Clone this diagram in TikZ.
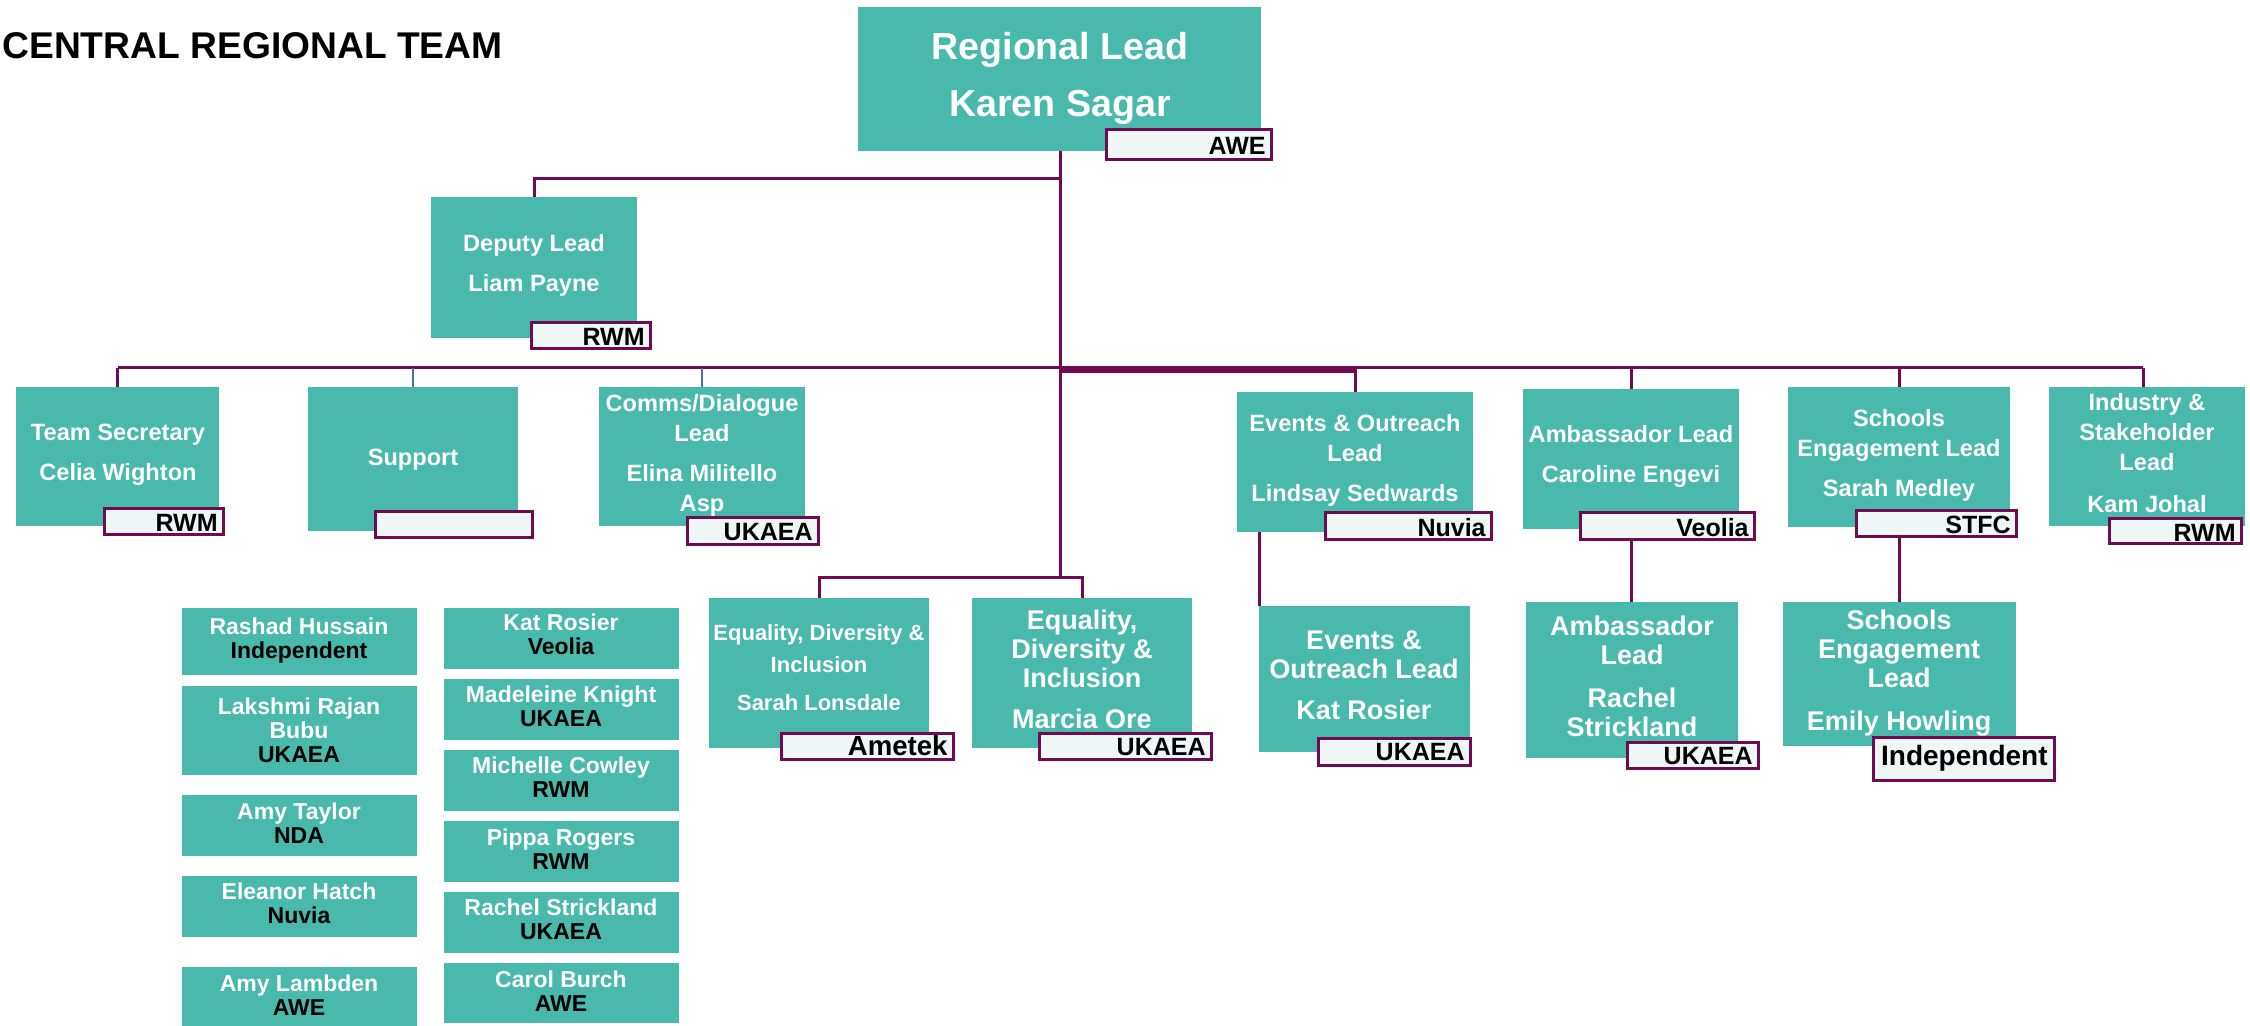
\documentclass[tikz,border=0pt]{standalone}
\usepackage{fontspec}
\setmainfont{Liberation Sans}
\usetikzlibrary{fit}
\definecolor{teal1}{RGB}{72,185,170}
\definecolor{maroon1}{RGB}{112,10,82}
\definecolor{tagfill}{RGB}{238,247,245}
\definecolor{blue1}{RGB}{74,110,168}
\tikzset{
  box/.style={fill=teal1, draw=none, inner sep=0pt, outer sep=0pt},
  tagbox/.style={fill=tagfill, draw=maroon1, line width=1.5pt, inner sep=0pt, outer sep=0pt},
  tagtext/.style={font=\bfseries\fontsize{12.5}{13}\selectfont, text=black, inner sep=0pt, anchor=east},
  regtext/.style={font=\bfseries\fontsize{18.8}{28.5}\selectfont, text=white, align=center, inner sep=0pt},
  toptext/.style={font=\bfseries\fontsize{11.8}{15}\selectfont, text=white, align=center, inner sep=0pt},
  lvtext/.style={font=\bfseries\fontsize{13.5}{14.5}\selectfont, text=white, align=center, inner sep=0pt},
  edtext/.style={font=\bfseries\fontsize{11}{16}\selectfont, text=white, align=center, inner sep=0pt},
  memtext/.style={font=\bfseries\fontsize{11.5}{12}\selectfont, text=white, align=center, inner sep=0pt},
  conn/.style={draw=maroon1, line width=1.5pt},
  thinconn/.style={draw=blue1, line width=0.8pt},
}
\newcommand\bx[5]{\node[box, fit={(#2,#3) (#4,#5)}] (#1) {};}
\newcommand\tg[6]{\node[tagbox, fit={(#2,#3) (#4,#5)}] (#1) {};
  \node[tagtext] (#1-t) at ([xshift=-2.5pt,yshift=-0.5pt]#1.east) {#6};}
\newcommand\co[1]{{\color{black}#1}}
\begin{document}
\begin{tikzpicture}[x=0.5pt, y=-0.5pt]
\useasboundingbox (0,0) rectangle (2250,1026);

% title
\node[anchor=base west, inner sep=0pt, font=\bfseries\fontsize{18.6}{19}\selectfont] (title) at (2,59) {CENTRAL REGIONAL TEAM};

% regional lead
\bx{reg}{858}{7}{1261}{151}
\node[regtext] (reg-t) at (1060,78) {Regional Lead\\Karen Sagar};
\tg{regtag}{1106}{130}{1271}{160}{AWE}

% deputy
\bx{dep}{431}{197}{637}{338}
\node[toptext] (dep-t) at (534,265) {Deputy Lead\\[5pt]Liam Payne};
\tg{deptag}{531}{323}{650}{349}{RWM}

% top row
\bx{ts}{16}{387}{219}{526}
\node[toptext] (ts-t) at (118,455) {Team Secretary\\[5pt]Celia Wighton};
\tg{tstag}{104}{509}{223}{535}{RWM}

\bx{sup}{308}{387}{518}{531}
\node[toptext] (sup-t) at (413,460) {Support};
\tg{suptag}{375}{512}{532}{538}{}

\bx{com}{599}{387}{805}{526}
\node[toptext] (com-t) at (702,455) {Comms/Dialogue\\Lead\\[5pt]Elina Militello\\Asp};
\tg{comtag}{687}{518}{818}{545}{UKAEA}

\bx{ev}{1237}{392}{1473}{532}
\node[toptext] (ev-t) at (1355,460) {Events \& Outreach\\Lead\\[5pt]Lindsay Sedwards};
\tg{evtag}{1325}{513}{1491}{540}{Nuvia}

\bx{amb}{1523}{389}{1739}{529}
\node[toptext] (amb-t) at (1631,456) {Ambassador Lead\\[5pt]Caroline Engevi};
\tg{ambtag}{1580}{513}{1754}{540}{Veolia}

\bx{sch}{1788}{387}{2010}{527}
\node[toptext] (sch-t) at (1899,455) {Schools\\Engagement Lead\\[5pt]Sarah Medley};
\tg{schtag}{1856}{511}{2016}{537}{STFC}

\bx{ind}{2049}{387}{2245}{526}
\node[toptext] (ind-t) at (2147,453) {Industry \&\\Stakeholder\\Lead\\[6pt]Kam Johal};
\tg{indtag}{2109}{519}{2241}{544}{RWM}

% second level
\bx{evc}{1259}{606}{1470}{752}
\node[lvtext] (evc-t) at (1364,675) {Events \&\\Outreach Lead\\[6pt]Kat Rosier};
\tg{evctag}{1318}{738}{1470}{765}{UKAEA}

\bx{ambc}{1526}{602}{1738}{758}
\node[lvtext] (ambc-t) at (1632,676) {Ambassador\\Lead\\[7pt]Rachel\\Strickland};
\tg{ambctag}{1627}{742}{1758}{768}{UKAEA}

\bx{schc}{1783}{602}{2016}{746}
\node[lvtext] (schc-t) at (1899,673) {Schools\\Engagement\\Lead\\[7pt]Emily Howling};
\node[tagbox, fit={(1873,737) (2054,780)}] (schctag) {};
\node[tagtext, font=\bfseries\fontsize{14}{14}\selectfont] (schctag-t) at ([xshift=-3pt]schctag.east) {Independent};

\bx{edi1}{709}{598}{929}{748}
\node[edtext] (edi1-t) at (819,668) {Equality, Diversity \&\\Inclusion\\[3pt]Sarah Lonsdale};
\node[tagbox, fit={(781,733) (953,759)}] (edi1tag) {};
\node[tagtext, font=\bfseries\fontsize{13.8}{14}\selectfont] (edi1tag-t) at ([xshift=-2.5pt]edi1tag.east) {Ametek};

\bx{edi2}{972}{598}{1192}{748}
\node[lvtext] (edi2-t) at (1082,669) {Equality,\\Diversity \&\\Inclusion\\[6pt]Marcia Ore};
\tg{edi2tag}{1039}{733}{1211}{759}{UKAEA}

% members column 1
\bx{m1}{182}{608}{417}{675}
\node[memtext] (m1-t) at (299,641) {Rashad Hussain\\\co{Independent}};
\bx{m2}{182}{686}{417}{775}
\node[memtext] (m2-t) at (299,730) {Lakshmi Rajan\\Bubu\\\co{UKAEA}};
\bx{m3}{182}{795}{417}{856}
\node[memtext] (m3-t) at (299,823) {Amy Taylor\\\co{NDA}};
\bx{m4}{182}{876}{417}{937}
\node[memtext] (m4-t) at (299,903) {Eleanor Hatch\\\co{Nuvia}};
\bx{m5}{182}{967}{417}{1026}
\node[memtext] (m5-t) at (299,995) {Amy Lambden\\\co{AWE}};
% members column 2
\bx{n1}{444}{608}{679}{669}
\node[memtext] (n1-t) at (561,634) {Kat Rosier\\\co{Veolia}};
\bx{n2}{444}{679}{679}{740}
\node[memtext] (n2-t) at (561,706) {Madeleine Knight\\\co{UKAEA}};
\bx{n3}{444}{750}{679}{811}
\node[memtext] (n3-t) at (561,777) {Michelle Cowley\\\co{RWM}};
\bx{n4}{444}{821}{679}{882}
\node[memtext] (n4-t) at (561,849) {Pippa Rogers\\\co{RWM}};
\bx{n5}{444}{892}{679}{953}
\node[memtext] (n5-t) at (561,919) {Rachel Strickland\\\co{UKAEA}};
\bx{n6}{444}{963}{679}{1023}
\node[memtext] (n6-t) at (561,991) {Carol Burch\\\co{AWE}};

% connectors
\coordinate (j1) at (1060,179);
\coordinate (bar) at (1060,368);
\coordinate (j3) at (1060,578);
\draw[conn] (reg.south -| j1) -- (j3);
\draw[conn] (j1) -| (dep.north);
\draw[conn] (ts.north |- bar) -- (2143,368) coordinate (barR);
\draw[draw=maroon1, line width=3.5pt] ([yshift=-1pt]bar) -- ([yshift=-1pt]ev.north |- bar);
\draw[conn] (ts.north |- bar) -- (ts.north);
\draw[thinconn] (sup.north |- bar) -- (sup.north);
\draw[thinconn] (com.north |- bar) -- (com.north);
\draw[conn] (ev.north |- bar) -- (ev.north);
\draw[conn] (amb.north |- bar) -- (amb.north);
\draw[conn] (sch.north |- bar) -- (sch.north);
\draw[conn] (barR) -- (barR |- ind.north);
\draw[conn] (edi1.north) |- (j3) -| (edi2.north);
\draw[conn] (evc.north west |- ev.south) -- (evc.north west);
\draw[conn] (amb.south |- ambtag.south) -- (amb.south |- ambc.north);
\draw[conn] (sch.south |- schtag.south) -- (sch.south |- schc.north);
\end{tikzpicture}
\end{document}
